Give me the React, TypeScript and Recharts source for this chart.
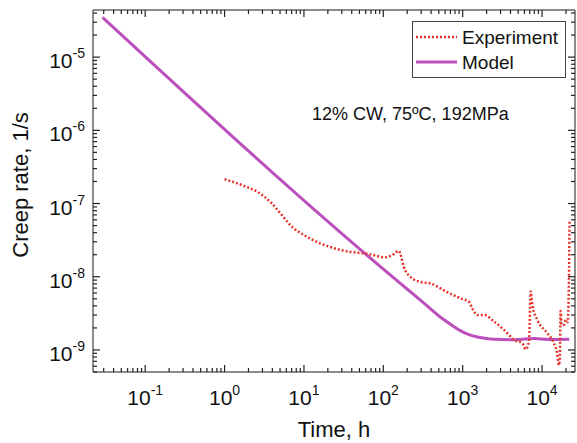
import React from 'react';
import { LineChart, Line, XAxis, YAxis, Legend } from 'recharts';

// experiment (dotted red)
const expTime = [1.0, 1.71, 2.63, 3.88, 5.19, 6.6, 11.5, 20.7, 37, 66, 106, 135, 156, 168, 181, 219, 293, 392, 633, 944, 1200, 1320, 1530, 1870, 2480, 3320, 4450, 5660, 6200, 6840, 7190, 7550, 8720, 11700, 14100, 15500, 16300, 16800, 17100, 17600, 18800, 20000, 21000, 21800, 22200];
const expRate = [2.15e-7, 1.76e-7, 1.43e-7, 1.02e-7, 7.1e-8, 5.2e-8, 3.4e-8, 2.58e-8, 2.2e-8, 2.04e-8, 1.84e-8, 2.04e-8, 2.26e-8, 1.87e-8, 1.37e-8, 1.0e-8, 8.5e-9, 8.1e-9, 6.2e-9, 5.06e-9, 4.55e-9, 3.7e-9, 3.0e-9, 3.0e-9, 2.44e-9, 1.88e-9, 1.37e-9, 1.23e-9, 1.02e-9, 1.3e-9, 6.3e-9, 4.1e-9, 2.57e-9, 1.69e-9, 1.23e-9, 9e-10, 6.2e-10, 8e-10, 3.4e-9, 2.2e-9, 2.2e-9, 2.6e-9, 2.4e-9, 9e-9, 5.7e-8];

// model (solid purple)
const modelTime = [0.029, 164, 293, 525, 700, 944, 1200, 1530, 2000, 2480, 4000, 8000, 12000, 22000];
const modelRate = [3.5e-5, 8.1e-9, 4.8e-9, 2.8e-9, 2.25e-9, 1.82e-9, 1.62e-9, 1.5e-9, 1.43e-9, 1.4e-9, 1.38e-9, 1.43e-9, 1.39e-9, 1.4e-9];

const xMajor = [0.1, 1, 10, 100, 1000, 10000];
const yMajor = [1e-9, 1e-8, 1e-7, 1e-6, 1e-5];
const xDomain = [0.022, 26000];
const yDomain = [5e-10, 4.4e-5];

const PLOT_LEFT = 93;
const PLOT_RIGHT = 575;
const PLOT_TOP = 10;
const PLOT_BOTTOM = 372;

const EXP_COLOR = '#e8352b';
const MODEL_COLOR = '#bb4fbb';
const FONT = '"Liberation Sans", Arial, sans-serif';

const withMinors = (majors: number[], lo: number, hi: number) => {
  const out: number[] = [];
  [majors[0] / 10, ...majors].forEach((d) => {
    for (let m = 1; m < 10; m++) {
      const v = +(d * m).toPrecision(6);
      if (v >= lo && v <= hi) out.push(v);
    }
  });
  return out;
};

const xTicks = withMinors(xMajor, xDomain[0], xDomain[1]);
const yTicks = withMinors(yMajor, yDomain[0], yDomain[1]);

const expData = expTime.map((t, i) => ({ t, rate: expRate[i] }));
const modelData = modelTime.map((t, i) => ({ t, rate: modelRate[i] }));

const exponent = (v: number) => Math.round(Math.log10(v));

const XTick = (props: any) => {
  const { x, payload, top } = props;
  const v = payload.value;
  const major = xMajor.includes(v);
  const len = major ? 7 : 4;
  const y0 = top ? PLOT_TOP : PLOT_BOTTOM;
  const y1 = top ? PLOT_TOP + len : PLOT_BOTTOM - len;
  return (
    <g>
      <line x1={x} x2={x} y1={y0} y2={y1} stroke="#222" strokeWidth={1.2} />
      {major && !top && (
        <text x={x} y={PLOT_BOTTOM + 33} textAnchor="middle" fontFamily={FONT} fontSize={21} fill="#111">
          10<tspan dy={-10} fontSize={14}>{exponent(v)}</tspan>
        </text>
      )}
    </g>
  );
};

const YTick = (props: any) => {
  const { y, payload, right } = props;
  const v = payload.value;
  const major = yMajor.some((m) => Math.abs(m - v) / m < 1e-6);
  const len = major ? 7 : 4;
  const x0 = right ? PLOT_RIGHT : PLOT_LEFT;
  const x1 = right ? PLOT_RIGHT - len : PLOT_LEFT + len;
  return (
    <g>
      <line x1={x0} x2={x1} y1={y} y2={y} stroke="#222" strokeWidth={1.2} />
      {major && !right && (
        <text x={PLOT_LEFT - 8} y={y + 11} textAnchor="end" fontFamily={FONT} fontSize={21} fill="#111">
          10<tspan dy={-10} fontSize={14}>{exponent(v)}</tspan>
        </text>
      )}
    </g>
  );
};

const YTitle = () => (
  <text
    x={28}
    y={185}
    transform="rotate(-90 28 185)"
    textAnchor="middle"
    fontFamily={FONT}
    fontSize={22}
    fill="#111"
  >
    Creep rate, 1/s
  </text>
);

const LegendBox = () => (
  <svg width={154} height={57} style={{ display: 'block' }}>
    <rect x={0.5} y={0.5} width={153} height={56} fill="#fff" stroke="#444" strokeWidth={1} />
    <line x1={4} x2={45} y1={16} y2={16} stroke={EXP_COLOR} strokeWidth={2.5} strokeDasharray="2 2" />
    <text x={50} y={23} fontFamily={FONT} fontSize={19} fill="#111">Experiment</text>
    <line x1={4} x2={45} y1={41} y2={41} stroke={MODEL_COLOR} strokeWidth={3} />
    <text x={50} y={48} fontFamily={FONT} fontSize={19} fill="#111">Model</text>
  </svg>
);

const axisLine = { stroke: '#666', strokeWidth: 1.5 };

export default function App() {
  return (
    <div style={{ position: 'absolute', left: 0, top: 0, width: 577, height: 443, background: '#fff' }}>
      <LineChart width={577} height={443} margin={{ top: 0, right: 0, bottom: 0, left: 0 }}>
        <XAxis
          xAxisId="b"
          dataKey="t"
          type="number"
          scale="log"
          domain={xDomain}
          allowDataOverflow
          ticks={xTicks}
          interval={0}
          height={443 - PLOT_BOTTOM}
          tickLine={false}
          axisLine={axisLine}
          tick={(p: any) => <XTick {...p} />}
          label={{ value: 'Time, h', position: 'insideBottom', offset: 6, fontFamily: FONT, fontSize: 22, fill: '#111' }}
        />
        <XAxis
          xAxisId="t"
          orientation="top"
          dataKey="t"
          type="number"
          scale="log"
          domain={xDomain}
          allowDataOverflow
          ticks={xTicks}
          interval={0}
          height={PLOT_TOP}
          tickLine={false}
          axisLine={axisLine}
          tick={(p: any) => <XTick {...p} top />}
        />
        <YAxis
          yAxisId="l"
          type="number"
          scale="log"
          domain={yDomain}
          allowDataOverflow
          ticks={yTicks}
          interval={0}
          width={PLOT_LEFT}
          tickLine={false}
          axisLine={axisLine}
          tick={(p: any) => <YTick {...p} />}
          label={{ content: () => <YTitle /> }}
        />
        <YAxis
          yAxisId="r"
          orientation="right"
          type="number"
          scale="log"
          domain={yDomain}
          allowDataOverflow
          ticks={yTicks}
          interval={0}
          width={577 - PLOT_RIGHT}
          tickLine={false}
          axisLine={axisLine}
          tick={(p: any) => <YTick {...p} right />}
        />
        <Legend
          layout="horizontal"
          verticalAlign="middle"
          align="center"
          wrapperStyle={{ left: 412, top: 21, width: 154, height: 57 }}
          content={() => <LegendBox />}
        />
        <Line
          xAxisId="b"
          yAxisId="l"
          data={modelData}
          dataKey="rate"
          type="monotone"
          stroke={MODEL_COLOR}
          strokeWidth={3}
          dot={false}
          isAnimationActive={false}
        />
        <Line
          xAxisId="b"
          yAxisId="l"
          data={expData}
          dataKey="rate"
          type="monotone"
          stroke={EXP_COLOR}
          strokeWidth={2.5}
          strokeDasharray="2 2"
          dot={false}
          isAnimationActive={false}
        />
      </LineChart>
      <div
        style={{
          position: 'absolute',
          left: 312,
          top: 104,
          fontFamily: FONT,
          fontSize: 18,
          color: '#111',
          whiteSpace: 'nowrap',
        }}
      >
        12% CW, 75ºC, 192MPa
      </div>
    </div>
  );
}
